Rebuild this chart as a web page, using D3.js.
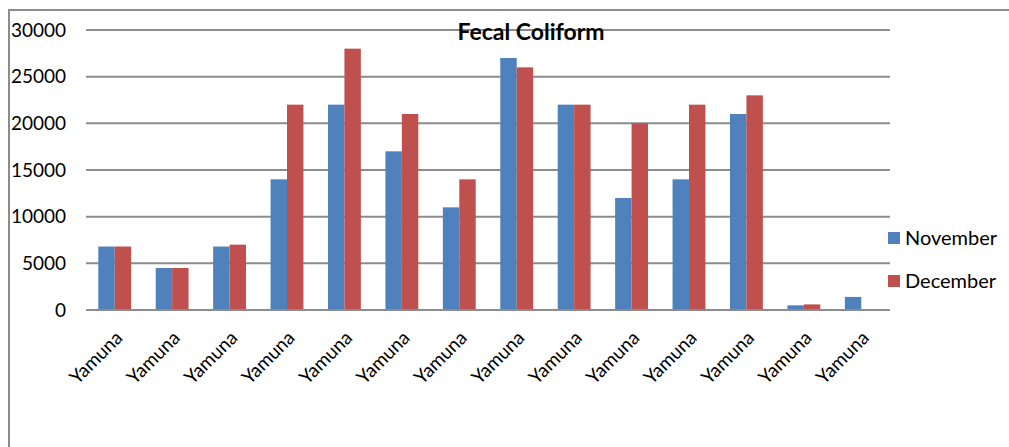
<!DOCTYPE html>
<html>
<head>
<meta charset="utf-8">
<script src="https://cdn.jsdelivr.net/npm/d3@7"></script>
<style>
  body { margin: 0; background: #fff; }
  svg text { font-family: Lato, "Open Sans", sans-serif; fill: #000; }
</style>
</head>
<body>
<div id="chart"></div>
<script>
const categories = ["Yamuna", "Yamuna", "Yamuna", "Yamuna", "Yamuna", "Yamuna", "Yamuna",
    "Yamuna", "Yamuna", "Yamuna", "Yamuna", "Yamuna", "Yamuna", "Yamuna"];
const seriesNames = ["November", "December"];
const november = [6800, 4500, 6800, 14000, 22000, 17000, 11000, 27000, 22000, 12000, 14000, 21000, 500, 1400];
const december = [6800, 4500, 7000, 22000, 28000, 21000, 14000, 26000, 22000, 20000, 22000, 23000, 600, 0];
const yTicks = [0, 5000, 10000, 15000, 20000, 25000, 30000];
const colors = ["#4F81BD", "#C0504D"];

const svg = d3.select("#chart").append("svg")
    .attr("width", 1009)
    .attr("height", 447);

// chart area frame
svg.append("path")
    .attr("d", "M9,447 V10 H1009")
    .attr("fill", "none")
    .attr("stroke", "#8c8c8c")
    .attr("stroke-width", 2);

const margin = {top: 30, left: 86};
const width = 804, height = 280;
const g = svg.append("g").attr("transform", "translate(" + margin.left + "," + margin.top + ")");

const x = d3.scaleBand().domain(d3.range(categories.length)).range([0, width]).paddingInner(0.428).paddingOuter(0.214);
const x1 = d3.scaleBand().domain([0, 1]).range([0, x.bandwidth()]);
const y = d3.scaleLinear().domain([0, 30000]).range([height, 0]);

g.append("g")
    .selectAll("line")
    .data(yTicks)
    .enter().append("line")
        .attr("x1", 0).attr("x2", width)
        .attr("y1", d => y(d)).attr("y2", d => y(d))
        .attr("stroke", "#8c8c8c")
        .attr("stroke-width", 2);

const yAxis = g.append("g").call(d3.axisLeft(y).tickValues(yTicks).tickFormat(d3.format("d")).tickSize(0).tickPadding(20));
yAxis.select(".domain").remove();
yAxis.selectAll("text").style("font-size", "19px").style("font-family", "Lato, 'Open Sans', sans-serif").attr("fill", "#000");

const data = categories.map((c, i) => [november[i], december[i]]);
const groups = g.selectAll("g.cat")
    .data(data)
    .enter().append("g")
        .attr("class", "cat")
        .attr("transform", (d, i) => "translate(" + x(i) + ",0)");
groups.selectAll("rect")
    .data(d => d)
    .enter().append("rect")
        .attr("x", (d, j) => x1(j))
        .attr("width", x1.bandwidth())
        .attr("y", d => y(d))
        .attr("height", d => height - y(d))
        .attr("fill", (d, j) => colors[j]);

// axis line
g.append("line")
    .attr("x1", 0).attr("x2", width)
    .attr("y1", height).attr("y2", height)
    .attr("stroke", "#8c8c8c")
    .attr("stroke-width", 2);

g.append("g").selectAll("text")
    .data(categories)
    .enter().append("text")
        .attr("text-anchor", "end")
        .attr("transform", (d, i) => "translate(" + (x(i) + x.bandwidth() / 2 + 9) + "," + (height + 29) + ") rotate(-45)")
        .style("font-size", "19px")
        .text(d => d);

svg.append("text")
    .attr("x", 531)
    .attr("y", 40)
    .attr("text-anchor", "middle")
    .style("font-size", "23px")
    .style("font-weight", "bold")
    .text("Fecal Coliform");

const legend = svg.append("g").attr("transform", "translate(888,232)");
seriesNames.forEach((s, i) => {
    legend.append("rect")
        .attr("x", 0).attr("y", i * 43)
        .attr("width", 12).attr("height", 12)
        .attr("fill", colors[i]);
    legend.append("text")
        .attr("x", 17).attr("y", i * 43 + 13)
        .style("font-size", "20px")
        .text(s);
});
</script>
</body>
</html>
